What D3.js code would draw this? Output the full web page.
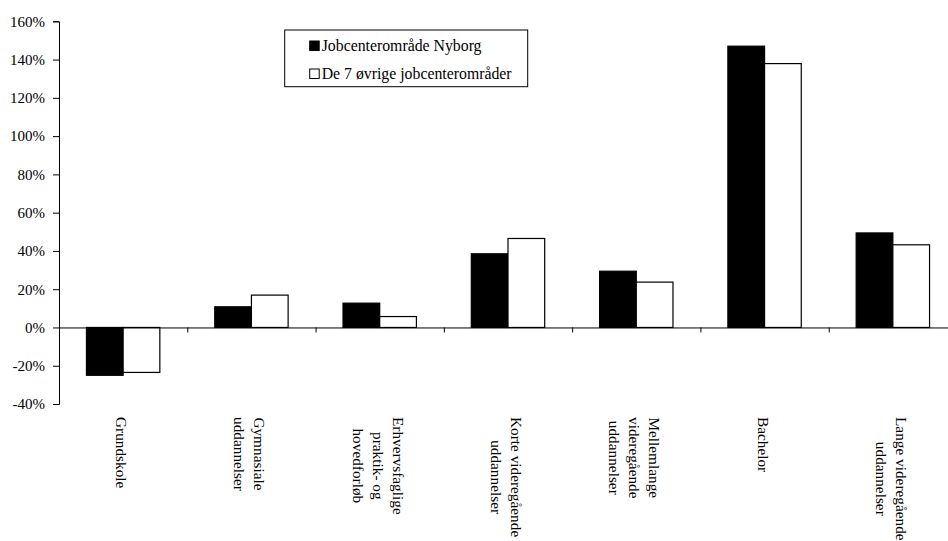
<!DOCTYPE html>
<html><head><meta charset="utf-8">
<script src="https://cdn.jsdelivr.net/npm/d3@7"></script>
<style>
html,body{margin:0;padding:0;background:#fff;}
svg{display:block;font-family:"Liberation Serif","Times New Roman",serif;}
</style></head>
<body>
<svg id="chart" width="948" height="541"></svg>
<script>
const categories = [
  ["Grundskole"],
  ["Gymnasiale", "uddannelser"],
  ["Erhvervsfaglige", "praktik- og", "hovedforløb"],
  ["Korte videregående", "uddannelser"],
  ["Mellemlange", "videregående", "uddannelser"],
  ["Bachelor"],
  ["Lange videregående", "uddannelser"]
];
const seriesNames = ["Jobcenterområde Nyborg", "De 7 øvrige jobcenterområder"];
const nyborg = [-25, 10.8, 12.7, 38.5, 29.4, 147, 49.4];
const others = [-23.5, 16.9, 5.7, 46.5, 23.7, 137.9, 43.2];
const yTicks = [-40, -20, 0, 20, 40, 60, 80, 100, 120, 140, 160];

const svg = d3.select("#chart");
const catKeys = categories.map(c => c.join(" "));

const left = 59, right = 957;
const y = d3.scaleLinear().domain([-40, 160]).range([404, 21.3]);
const xCat = d3.scaleBand().domain(catKeys).range([left, right]).padding(0);
const xSer = d3.scaleBand().domain(seriesNames).range([0, xCat.bandwidth()]).paddingInner(0).paddingOuter(0.748);
const xIdx = d3.scaleLinear().domain([0, categories.length]).range([left, right]);

// bars
const data = [];
catKeys.forEach((k, i) => {
  data.push({cat: k, s: seriesNames[0], v: nyborg[i]});
  data.push({cat: k, s: seriesNames[1], v: others[i]});
});
svg.append("g").selectAll("rect").data(data).join("rect")
  .attr("x", d => xCat(d.cat) + xSer(d.s))
  .attr("width", xSer.bandwidth())
  .attr("y", d => y(Math.max(0, d.v)))
  .attr("height", d => Math.abs(y(d.v) - y(0)))
  .attr("fill", d => d.s === seriesNames[0] ? "#000" : "#fff")
  .attr("stroke", "#000")
  .attr("stroke-width", 1.2);

// y axis
const yAxis = svg.append("g").attr("transform", `translate(${left},0)`)
  .call(d3.axisLeft(y).tickValues(yTicks).tickSize(6).tickPadding(8).tickFormat(d => d + "%"));
yAxis.selectAll("text").attr("font-size", 15).attr("fill", "#000")
  .attr("font-family", '"Liberation Serif","Times New Roman",serif');
yAxis.selectAll("path,line").attr("stroke", "#000");

// x axis at zero
const xAxis = svg.append("g").attr("transform", `translate(0,${y(0)})`)
  .call(d3.axisBottom(xIdx).tickValues(d3.range(1, categories.length + 1)).tickSize(5).tickSizeOuter(0).tickFormat(""));
xAxis.selectAll("path,line").attr("stroke", "#000");

// category labels (rotated 90deg)
const lineH = 20;
categories.forEach((lines, i) => {
  const cx = xCat(catKeys[i]) + xCat.bandwidth() / 2;
  const g = svg.append("g").attr("transform", `translate(${cx},417) rotate(90)`);
  const n = lines.length;
  const t = g.append("text").attr("font-size", 15.3).attr("fill", "#000").attr("text-anchor", "middle");
  const spans = lines.map((ln, j) => t.append("tspan").attr("y", 7 + (j - (n - 1) / 2) * lineH).text(ln));
  let maxW = 0;
  spans.forEach(s => { maxW = Math.max(maxW, s.node().getComputedTextLength()); });
  spans.forEach(s => s.attr("x", maxW / 2));
});

// legend
const lg = svg.append("g");
lg.append("rect").attr("x", 284.7).attr("y", 30).attr("width", 243).attr("height", 56.7)
  .attr("fill", "#fff").attr("stroke", "#000").attr("stroke-width", 1);
seriesNames.forEach((s, i) => {
  const by = 50.5 + i * 28;
  lg.append("rect").attr("x", 309.7).attr("y", by - 9.5).attr("width", 9.5).attr("height", 9.5)
    .attr("fill", i === 0 ? "#000" : "#fff").attr("stroke", "#000").attr("stroke-width", 1);
  lg.append("text").attr("x", 321.7).attr("y", by).attr("font-size", 15.8).attr("fill", "#000").text(s);
});
</script>
</body></html>
